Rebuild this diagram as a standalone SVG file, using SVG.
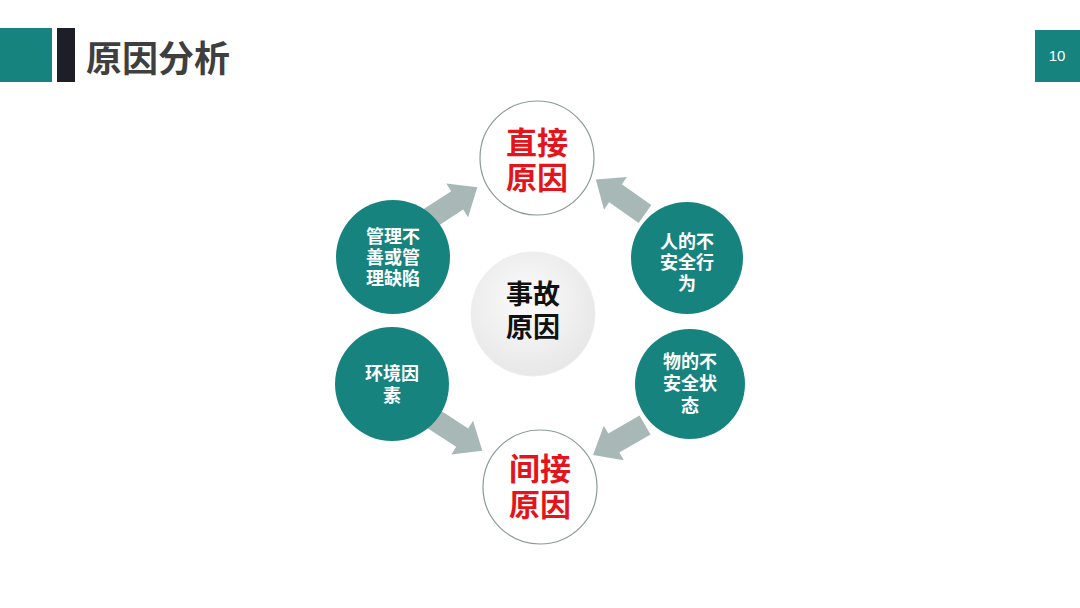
<svg xmlns="http://www.w3.org/2000/svg" width="1080" height="608" viewBox="0 0 1080 608">
<defs>
<style>
.cjk{font-family:"Noto Sans CJK SC","Noto Sans",sans-serif;font-weight:bold;text-anchor:middle;dominant-baseline:central}
.teal{fill:#17837f}
.red{fill:#e3141b;font-size:31px}
.wt{fill:#ffffff;font-size:18px}
.arr{fill:#a7b8b7}
</style>
<radialGradient id="gc" cx="0.45" cy="0.4" r="0.65">
<stop offset="0" stop-color="#fbfbfb"/>
<stop offset="1" stop-color="#e6e6e6"/>
</radialGradient>
<path id="ar" d="M0,-11 L36,-11 L36,-20 L60,0 L36,20 L36,11 L0,11 Z"/>
</defs>
<rect width="1080" height="608" fill="#ffffff"/>
<g id="header">
<rect x="0" y="28" width="52" height="54" class="teal"/>
<rect x="57" y="28" width="18" height="54" fill="#1c1f28"/>
<text x="86" y="56" class="cjk" style="text-anchor:start;font-size:36px;fill:#3f3f3f">原因分析</text>
</g>
<g id="page">
<rect x="1035" y="30" width="45" height="52" class="teal"/>
<text x="1057" y="55" style="font-family:'Liberation Sans',sans-serif;font-size:15px;fill:#ffffff;text-anchor:middle;dominant-baseline:central">10</text>
</g>
<g id="connectors">
<use href="#ar" class="arr" transform="translate(427,220) rotate(-33)"/>
<use href="#ar" class="arr" transform="translate(645,214) rotate(-145)"/>
<use href="#ar" class="arr" transform="translate(432,418) rotate(33)"/>
<use href="#ar" class="arr" transform="translate(645,425) rotate(150)"/>
</g>
<g id="direct">
<circle cx="537" cy="158" r="57" fill="#ffffff" stroke="#8a9a99" stroke-width="1.2"/>
<text class="cjk red"><tspan x="537" y="140">直接</tspan><tspan x="537" y="175">原因</tspan></text>
</g>
<g id="indirect">
<circle cx="540" cy="487" r="57" fill="#ffffff" stroke="#8a9a99" stroke-width="1.2"/>
<text class="cjk red"><tspan x="540" y="466">间接</tspan><tspan x="540" y="502">原因</tspan></text>
</g>
<g id="center">
<circle cx="533" cy="314" r="62" fill="url(#gc)" stroke="#eeeeee" stroke-width="1"/>
<text class="cjk" style="font-size:27px;fill:#111111"><tspan x="533" y="292">事故</tspan><tspan x="533" y="325">原因</tspan></text>
</g>
<g id="management">
<circle cx="393" cy="257" r="57" class="teal"/>
<text class="cjk wt"><tspan x="393" y="235">管理不</tspan><tspan x="393" y="256">善或管</tspan><tspan x="393" y="277">理缺陷</tspan></text>
</g>
<g id="human">
<circle cx="687" cy="258" r="56" class="teal"/>
<text class="cjk wt"><tspan x="687" y="240">人的不</tspan><tspan x="687" y="261">安全行</tspan><tspan x="687" y="282">为</tspan></text>
</g>
<g id="environment">
<circle cx="392" cy="384" r="57" class="teal"/>
<text class="cjk wt"><tspan x="392" y="372">环境因</tspan><tspan x="392" y="394">素</tspan></text>
</g>
<g id="object">
<circle cx="690" cy="384" r="55" class="teal"/>
<text class="cjk wt"><tspan x="690" y="360">物的不</tspan><tspan x="690" y="382">安全状</tspan><tspan x="690" y="404">态</tspan></text>
</g>
</svg>
